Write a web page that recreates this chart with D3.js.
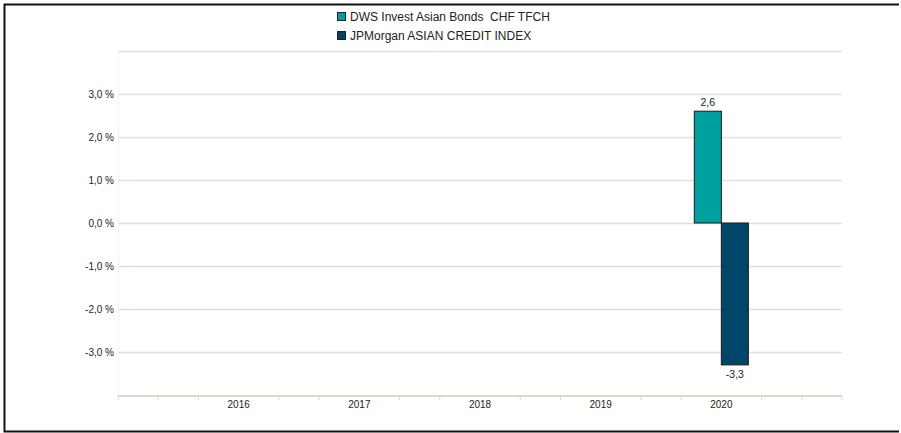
<!DOCTYPE html>
<html>
<head>
<meta charset="utf-8">
<script src="https://cdn.jsdelivr.net/npm/d3@7"></script>
<style>
  body { margin: 0; background: #fff; }
  text { font-family: "Liberation Sans", Arial, sans-serif; fill: #222; white-space: pre; }
</style>
</head>
<body>
<div id="chart"></div>
<script>
// chart data
var years = ["2016", "2017", "2018", "2019", "2020"];
var seriesNames = ["DWS Invest Asian Bonds  CHF TFCH", "JPMorgan ASIAN CREDIT INDEX"];
var fundValues = [null, null, null, null, 2.6];
var indexValues = [null, null, null, null, -3.3];
var yTicks = [-3, -2, -1, 0, 1, 2, 3];
var colors = ["#00a0a0", "#00466a"];

var width = 901, height = 433;
var plotLeft = 118, plotRight = 842, plotTop = 51, plotBottom = 395;

var svg = d3.select("#chart").append("svg")
    .attr("width", width)
    .attr("height", height);

// frame (top, left, bottom)
svg.append("path")
    .attr("d", "M899,4.5H4.5V431.5H899")
    .attr("fill", "none")
    .attr("stroke", "#111")
    .attr("stroke-width", 2);

var y = d3.scaleLinear().domain([-4, 4]).range([plotBottom, plotTop]);
// x positions: one empty slot at each end, years in between
var x = d3.scaleLinear().domain([0, years.length + 1]).range([plotLeft, plotRight]);

// grid
svg.append("g").selectAll("line")
    .data(d3.range(-3, 5))
    .enter().append("line")
    .attr("x1", plotLeft).attr("x2", plotRight)
    .attr("y1", function(d) { return Math.round(y(d)) + 0.5; })
    .attr("y2", function(d) { return Math.round(y(d)) + 0.5; })
    .attr("stroke", "#e2dfd8")
    .attr("stroke-width", 1.5);

svg.append("line")
    .attr("x1", plotLeft + 0.5).attr("x2", plotLeft + 0.5)
    .attr("y1", plotTop).attr("y2", plotBottom)
    .attr("stroke", "#f4f3f0");

// y labels
svg.append("g").selectAll("text")
    .data(yTicks)
    .enter().append("text")
    .attr("x", 114)
    .attr("y", function(d) { return y(d) + 3.5; })
    .attr("text-anchor", "end")
    .style("font-size", "10px")
    .text(function(d) { return d3.format(".1f")(d).replace("−", "-").replace(".", ",") + " %"; });

// x axis line + minor ticks
svg.append("line")
    .attr("x1", plotLeft).attr("x2", plotRight)
    .attr("y1", plotBottom + 1).attr("y2", plotBottom + 1)
    .attr("stroke", "#dcd8cf")
    .attr("stroke-width", 2);

var minor = d3.range(0, (years.length + 1) * 3 + 1)
    .filter(function(i) { return i % 3 !== 0 || i === 0 || i === (years.length + 1) * 3; });
svg.append("g").selectAll("line")
    .data(minor)
    .enter().append("line")
    .attr("x1", function(i) { return x(i / 3); })
    .attr("x2", function(i) { return x(i / 3); })
    .attr("y1", plotBottom + 1).attr("y2", plotBottom + 5)
    .attr("stroke", "#dcd8cf")
    .attr("stroke-width", 1);

svg.append("g").selectAll("text")
    .data(years)
    .enter().append("text")
    .attr("x", function(d, i) { return x(i + 1); })
    .attr("y", 408)
    .attr("text-anchor", "middle")
    .style("font-size", "10px")
    .text(function(d) { return d; });

// bars
var step = x(1) - x(0);
var barW = step * 0.224;
var series = [fundValues, indexValues];

series.forEach(function(vals, s) {
  var g = svg.append("g");
  var pts = vals.map(function(v, i) { return { v: v, i: i }; })
      .filter(function(d) { return d.v !== null; });

  g.selectAll("rect")
      .data(pts)
      .enter().append("rect")
      .attr("x", function(d) { return x(d.i + 1) + (s - 1) * barW; })
      .attr("y", function(d) { return y(Math.max(0, d.v)); })
      .attr("width", barW)
      .attr("height", function(d) { return Math.abs(y(d.v) - y(0)); })
      .attr("fill", colors[s])
      .attr("stroke", "#1b1b1b")
      .attr("stroke-width", 1);

  g.selectAll("text")
      .data(pts)
      .enter().append("text")
      .attr("x", function(d) { return x(d.i + 1) + (s - 0.5) * barW; })
      .attr("y", function(d) { return d.v >= 0 ? y(d.v) - 5 : y(d.v) + 13; })
      .attr("text-anchor", "middle")
      .style("font-size", "10.5px")
      .text(function(d) { return d3.format(".1f")(d.v).replace("−", "-").replace(".", ","); });
});

// legend
var legend = svg.append("g");
seriesNames.forEach(function(name, i) {
  legend.append("rect")
      .attr("x", 337.5).attr("y", 12.5 + i * 19)
      .attr("width", 8).attr("height", 8)
      .attr("fill", colors[i])
      .attr("stroke", "#222")
      .attr("stroke-width", 1);
  legend.append("text")
      .attr("x", 350).attr("y", 21 + i * 19)
      .style("font-size", "12px")
      .text(name);
});
</script>
</body>
</html>
